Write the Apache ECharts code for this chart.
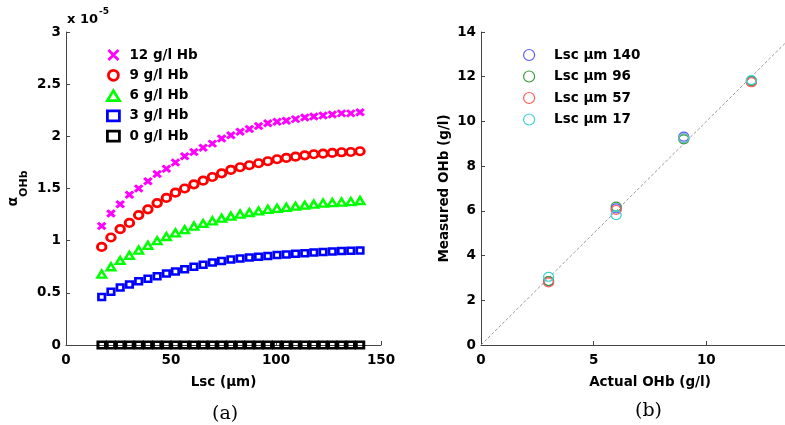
<!DOCTYPE html>
<html>
<head>
<meta charset="utf-8">
<script src="https://cdn.jsdelivr.net/npm/echarts@6/dist/echarts.min.js"></script>
<style>
  html, body { margin: 0; padding: 0; background: #fff; }
  #chart { width: 785px; height: 425px; }
</style>
</head>
<body>
<div id="chart"></div>
<script>
// ---- Panel (a): absorption coefficient vs. Lsc, values in units of 1e-5 ----
var lsc = [17, 21.4, 25.8, 30.2, 34.6, 39, 43.4, 47.8, 52.1, 56.5, 60.9, 65.3, 69.7, 74.1, 78.5,
           82.9, 87.3, 91.7, 96.1, 100.5, 104.9, 109.3, 113.7, 118, 122.4, 126.8, 131.2, 135.6, 140];
var hb12 = [1.14, 1.26, 1.35, 1.44, 1.50, 1.57, 1.64, 1.69, 1.75, 1.81, 1.85, 1.89, 1.93, 1.98, 2.01,
            2.045, 2.07, 2.10, 2.125, 2.14, 2.15, 2.165, 2.18, 2.19, 2.20, 2.21, 2.22, 2.22, 2.23];
var hb9 = [0.94, 1.03, 1.11, 1.17, 1.245, 1.30, 1.36, 1.41, 1.46, 1.50, 1.54, 1.575, 1.61, 1.645, 1.678,
           1.704, 1.723, 1.742, 1.761, 1.78, 1.793, 1.805, 1.818, 1.828, 1.834, 1.841, 1.847, 1.85, 1.857];
var hb6 = [0.68, 0.75, 0.81, 0.86, 0.91, 0.955, 1.00, 1.04, 1.075, 1.105, 1.14, 1.165, 1.19, 1.215, 1.235,
           1.255, 1.27, 1.285, 1.30, 1.31, 1.32, 1.33, 1.34, 1.35, 1.36, 1.365, 1.37, 1.375, 1.385];
var hb3 = [0.46, 0.51, 0.55, 0.58, 0.61, 0.635, 0.66, 0.685, 0.705, 0.725, 0.75, 0.77, 0.79, 0.805, 0.82,
           0.83, 0.838, 0.845, 0.853, 0.862, 0.868, 0.875, 0.88, 0.887, 0.892, 0.897, 0.9, 0.903, 0.905];
var hb0 = [0, 0, 0, 0, 0, 0, 0, 0, 0, 0, 0, 0, 0, 0, 0, 0, 0, 0, 0, 0, 0, 0, 0, 0, 0, 0, 0, 0, 0];
var hbNames = ['12 g/l Hb', '9 g/l Hb', '6 g/l Hb', '3 g/l Hb', '0 g/l Hb'];

// ---- Panel (b): measured vs. actual OHb ----
var actualOHb = [3, 6, 9, 12];
var lsc140 = [2.85, 6.11, 9.32, 11.80];
var lsc96 = [2.86, 6.19, 9.20, 11.80];
var lsc57 = [2.80, 6.04, 9.25, 11.75];
var lsc17 = [3.05, 5.81, 9.25, 11.85];
var lscNames = ['Lsc \u03bcm 140', 'Lsc \u03bcm 96', 'Lsc \u03bcm 57', 'Lsc \u03bcm 17'];
var identityLine = [0, 15];

function pairs(xs, ys) {
  return xs.map(function (x, i) { return [x, ys[i]]; });
}

var ELLIPSE = 'path://M0,-10A10,10,0,1,1,0,10A10,10,0,1,1,0,-10Z';
var CROSS = 'path://M0,0L10,10M10,0L0,10';
var SANS = 'DejaVu Sans';
var NONE = 'rgba(0,0,0,0)';

function hollow(name, ys, symbol, size, color, width) {
  return {
    type: 'scatter', name: name, xAxisIndex: 0, yAxisIndex: 0,
    data: pairs(lsc, ys), symbol: symbol, symbolSize: size,
    itemStyle: { color: NONE, borderColor: color, borderWidth: width, opacity: 1 },
    emphasis: { disabled: true }, silent: true, z: 3
  };
}
function ring(name, ys, color) {
  return {
    type: 'scatter', name: name, xAxisIndex: 1, yAxisIndex: 1,
    data: pairs(actualOHb, ys), symbol: ELLIPSE, symbolSize: [10, 9],
    itemStyle: { color: NONE, borderColor: color, borderWidth: 1.2, opacity: 1 },
    emphasis: { disabled: true }, silent: true, z: 3
  };
}

var axisCommon = {
  axisLine: { show: true, onZero: false, lineStyle: { color: '#444', width: 1 } },
  axisTick: { show: true, inside: true, length: 4, lineStyle: { color: '#444' } },
  splitLine: { show: false },
  axisLabel: { color: '#000', fontFamily: SANS, fontWeight: 'bold', fontSize: 13.5 },
  nameTextStyle: { color: '#000', fontFamily: SANS, fontWeight: 'bold', fontSize: 13.5 }
};
function ax(extra) {
  var o = JSON.parse(JSON.stringify(axisCommon));
  for (var k in extra) {
    if (typeof extra[k] === 'object' && o[k] && !Array.isArray(extra[k])) {
      for (var j in extra[k]) o[k][j] = extra[k][j];
    } else {
      o[k] = extra[k];
    }
  }
  return o;
}

var chart = echarts.init(document.getElementById('chart'), null, { renderer: 'canvas' });
chart.setOption({
  backgroundColor: '#fff',
  animation: false,
  grid: [
    { left: 66, top: 32, width: 315, height: 313, containLabel: false, outerBoundsMode: 'none' },
    { left: 481, top: 32, width: 338, height: 313, containLabel: false, outerBoundsMode: 'none' }
  ],
  xAxis: [
    ax({ gridIndex: 0, type: 'value', min: 0, max: 150, interval: 50,
         name: 'Lsc (\u03bcm)', nameLocation: 'middle', nameGap: 30,
         axisLabel: { margin: 8 } }),
    ax({ gridIndex: 1, type: 'value', min: 0, max: 15, interval: 5,
         name: 'Actual OHb (g/l)', nameLocation: 'middle', nameGap: 30,
         axisLabel: { margin: 8 } })
  ],
  yAxis: [
    ax({ gridIndex: 0, type: 'value', min: 0, max: 3, interval: 0.5,
         name: '{a|\u03b1}{s|OHb}', nameLocation: 'middle', nameGap: 36, nameRotate: 90,
         axisLabel: { margin: 5 },
         nameTextStyle: {
           rich: {
             a: { fontFamily: SANS, fontSize: 14, color: '#000', verticalAlign: 'top', lineHeight: 24 },
             s: { fontFamily: SANS, fontSize: 11, fontWeight: 'bold', color: '#000', verticalAlign: 'bottom', lineHeight: 24 }
           }
         } }),
    ax({ gridIndex: 1, type: 'value', min: 0, max: 14, interval: 2,
         name: 'Measured OHb (g/l)', nameLocation: 'middle', nameGap: 30, nameRotate: 90,
         axisLabel: { margin: 5 } })
  ],
  legend: [
    {
      data: hbNames, orient: 'vertical', left: 101, top: 43,
      itemWidth: 12, itemHeight: 10, itemGap: 6.3,
      textStyle: { color: '#000', fontFamily: SANS, fontWeight: 'bold', fontSize: 13.5, padding: [0, 0, 0, 5] },
      itemStyle: { borderWidth: 2.8 },
      selectedMode: false
    },
    {
      data: lscNames, orient: 'vertical', left: 518, top: 43,
      itemWidth: 12, itemHeight: 11, itemGap: 7.5,
      textStyle: { color: '#000', fontFamily: SANS, fontWeight: 'bold', fontSize: 13.5, padding: [0, 0, 0, 14] },
      itemStyle: { borderWidth: 1.2 },
      selectedMode: false
    }
  ],
  graphic: [
    { type: 'text', left: 67, top: 13, style: { text: 'x 10', fill: '#000', font: 'bold 13px "DejaVu Sans"' } },
    { type: 'text', left: 99, top: 7, style: { text: '-5', fill: '#000', font: 'bold 9px "DejaVu Sans"' } },
    { type: 'text', left: 212, top: 405, style: { text: '(a)', fill: '#000', font: '19px "DejaVu Serif"' } },
    { type: 'text', left: 635, top: 402, style: { text: '(b)', fill: '#000', font: '19px "DejaVu Serif"' } }
  ],
  series: [
    {
      type: 'line', xAxisIndex: 1, yAxisIndex: 1, data: pairs(identityLine, identityLine),
      symbol: 'none', silent: true, z: 1, clip: true,
      lineStyle: { color: '#999', width: 1, type: [3, 2] }
    },
    hollow(hbNames[0], hb12, CROSS, [7.5, 6.5], '#ff00ff', 3),
    hollow(hbNames[1], hb9, ELLIPSE, [8.5, 7.5], '#ff0000', 2.8),
    hollow(hbNames[2], hb6, 'triangle', [8.5, 7], '#00ff00', 2.5),
    hollow(hbNames[3], hb3, 'rect', [6.5, 6], '#0000ff', 2.6),
    hollow(hbNames[4], hb0, 'rect', [7.5, 6.5], '#000000', 2.8),
    ring(lscNames[0], lsc140, '#5a5aff'),
    ring(lscNames[1], lsc96, '#3c9a3c'),
    ring(lscNames[2], lsc57, '#ff5a5a'),
    ring(lscNames[3], lsc17, '#3cd2d2')
  ]
});
</script>
</body>
</html>
